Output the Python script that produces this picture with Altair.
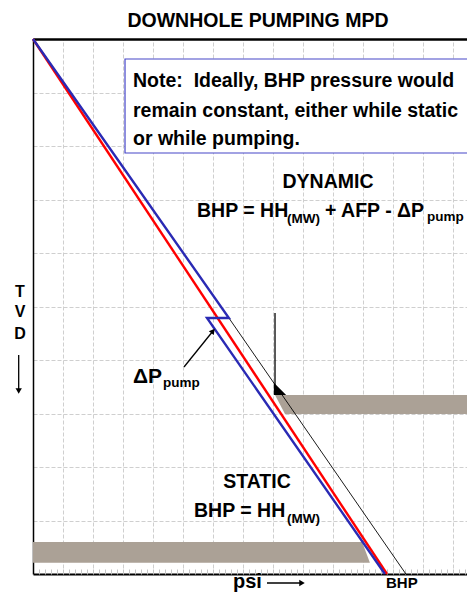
import altair as alt
import pandas as pd

# ---------------- data (psi units on x, TVD units on y) ----------------
red_x = [0.0, 11.8]
red_y = [0.0, 10.0]
blue_x = [0.0, 6.53, 5.8, 11.73]
blue_y = [0.0, 5.215, 5.215, 10.0]
black_x = [6.53, 12.43]
black_y = [5.215, 10.0]

band_up_y = [6.654, 7.009]
band_up_x = [8.067, 8.40]
band_up_x2 = [14.5, 14.5]
band_lo_y = [9.402, 9.79]
band_lo_x = [0.0, 0.0]
band_lo_x2 = [10.97, 11.23]

note_box = {"x": [3.067], "x2": [14.5], "y": [0.374], "y2": [2.131]}

title_txt = ["DOWNHOLE PUMPING MPD", "DYNAMIC", "STATIC"]
title_x = [7.5, 9.833, 7.467]
title_y = [-0.224, 2.785, 8.393]

main_txt = ["Note:\u00a0 Ideally, BHP pressure would",
            "remain constant, either while static",
            "or while pumping.",
            "BHP = HH", "+ AFP - \u0394P", "BHP = HH"]
main_x = [3.333, 3.333, 3.333, 5.467, 9.733, 5.367]
main_y = [0.897, 1.458, 1.981, 3.327, 3.327, 8.935]

sub_txt = ["(MW)", "pump", "pump", "(MW)"]
sub_x = [8.467, 13.133, 4.333, 8.467]
sub_y = [3.439, 3.402, 6.505, 9.047]

dp_txt = ["\u0394P"]
dp_x = [3.333]
dp_y = [6.43]

tvd_txt = ["T", "V", "D"]
tvd_x = [-0.433, -0.433, -0.433]
tvd_y = [4.822, 5.196, 5.607]

psi_txt = ["psi"]
psi_x = [6.667]
psi_y = [10.262]

bhp_txt = ["BHP"]
bhp_x = [11.767]
bhp_y = [10.262]

arrow_x = [5.033, 8.067, -0.477, 7.8]
arrow_x2 = [6.0, 8.067, -0.477, 8.933]
arrow_y = [6.131, 5.122, 5.907, 10.168]
arrow_y2 = [5.458, 6.654, 6.542, 10.168]

XMAX = 434 / 30
XS = alt.Scale(domain=[0, XMAX], nice=False, zero=False)
YS = alt.Scale(domain=[0, 10], reverse=True, nice=False, zero=False)
FONT = "Liberation Sans"


def X(field, axis=None):
    return alt.X(field, type="quantitative", scale=XS, axis=axis, title=None)


def Y(field, axis=None):
    return alt.Y(field, type="quantitative", scale=YS, axis=axis, title=None)


# ---------------- bands (carry the main axes + grid) ----------------
bands = pd.concat([
    pd.DataFrame({"g": "up", "y": band_up_y, "x": band_up_x, "x2": band_up_x2}),
    pd.DataFrame({"g": "lo", "y": band_lo_y, "x": band_lo_x, "x2": band_lo_x2}),
])
grid_axis_x = alt.Axis(orient="bottom", values=list(range(0, 15)), labels=False, ticks=False,
                       grid=True, gridColor="#cfcfcf", gridDash=[4, 2], gridWidth=1,
                       domain=True, domainColor="#000000", domainWidth=2)
grid_axis_y = alt.Axis(orient="left", values=list(range(0, 11)), labels=False, ticks=False,
                       grid=True, gridColor="#cfcfcf", gridDash=[4, 2], gridWidth=1,
                       domain=True, domainColor="#000000", domainWidth=1.5)
band_layer = alt.Chart(bands).mark_area(orient="horizontal", color="#aba196", clip=True).encode(
    y=Y("y", grid_axis_y), x=X("x", grid_axis_x), x2="x2", detail="g:N"
)

# ---------------- note box (carries the top border) ----------------
top_axis = alt.Axis(orient="top", labels=False, ticks=False, grid=False,
                    domain=True, domainColor="#000000", domainWidth=2.5)
note_layer = alt.Chart(pd.DataFrame(note_box)).mark_rect(
    fill="white", stroke="#4646c8", strokeWidth=1.2, clip=True
).encode(x=X("x", top_axis), x2="x2", y=Y("y"), y2="y2")

# ---------------- lines (carry the minor ticks) ----------------
minor_axis = alt.Axis(orient="top", offset=-535, labels=False, ticks=True, tickSize=5,
                      tickColor="#c4c4c4", tickWidth=1, grid=False, domain=False,
                      values=[i / 5 for i in range(0, 73)])
red_df = pd.DataFrame({"x": red_x, "y": red_y, "i": range(len(red_x))})
blue_df = pd.DataFrame({"x": blue_x, "y": blue_y, "i": range(len(blue_x))})
black_df = pd.DataFrame({"x": black_x, "y": black_y, "i": range(len(black_x))})

black_layer = alt.Chart(black_df).mark_line(color="#000000", strokeWidth=0.9).encode(
    x=X("x", minor_axis), y=Y("y"), order="i:Q")
red_layer = alt.Chart(red_df).mark_line(color="#ff0000", strokeWidth=2.4).encode(
    x=X("x"), y=Y("y"), order="i:Q")
blue_layer = alt.Chart(blue_df).mark_line(color="#2a2ab4", strokeWidth=2.4, strokeJoin="miter").encode(
    x=X("x"), y=Y("y"), order="i:Q")

# ---------------- arrows ----------------
arrows = pd.DataFrame({"x": arrow_x, "x2": arrow_x2, "y": arrow_y, "y2": arrow_y2})
arrow_layer = alt.Chart(arrows).mark_rule(color="#000000", strokeWidth=1.3).encode(
    x=X("x"), x2="x2", y=Y("y"), y2="y2")

heads = pd.DataFrame({"x": [6.0, -0.477, 8.967], "y": [5.458, 6.579, 10.168],
                      "s": ["triangle-up", "triangle-down", "triangle-right"],
                      "a": [38.5, 0, 0]})
head_layer = alt.Chart(heads).mark_point(filled=True, color="#000000", opacity=1, size=40).encode(
    x=X("x"), y=Y("y"),
    shape=alt.Shape("s:N", scale=None, legend=None),
    angle=alt.Angle("a:Q", scale=None))

corner = pd.DataFrame({"x": [8.233], "y": [6.542]})
corner_layer = alt.Chart(corner).mark_point(
    filled=True, color="#000000", opacity=1, size=150, shape="M-1,-1L1,1L-1,1Z"
).encode(x=X("x"), y=Y("y"))


# ---------------- text ----------------
def text_layer(txt, xs, ys, size, align):
    df = pd.DataFrame({"t": txt, "x": xs, "y": ys})
    return alt.Chart(df).mark_text(
        font=FONT, fontWeight="bold", fontSize=size, align=align,
        baseline="alphabetic", color="#000000"
    ).encode(x=X("x"), y=Y("y"), text="t:N")


texts = [
    text_layer(title_txt, title_x, title_y, 19.5, "center"),
    text_layer(main_txt, main_x, main_y, 19.5, "left"),
    text_layer(sub_txt, sub_x, sub_y, 13.5, "left"),
    text_layer(dp_txt, dp_x, dp_y, 21, "left"),
    text_layer(tvd_txt, tvd_x, tvd_y, 16, "center"),
    text_layer(psi_txt, psi_x, psi_y, 20, "left"),
    text_layer(bhp_txt, bhp_x, bhp_y, 15, "left"),
]

chart = alt.layer(
    band_layer, note_layer, black_layer, red_layer, blue_layer,
    arrow_layer, head_layer, corner_layer, *texts
).resolve_axis(x="independent", y="independent").properties(
    width=434, height=535,
    autosize=alt.AutoSizeParams(type="none"),
    padding={"left": 25, "top": 31, "right": 0, "bottom": 19},
).configure_view(stroke=None)

chart.save("out.html", embed_options={"renderer": "svg", "actions": False})
